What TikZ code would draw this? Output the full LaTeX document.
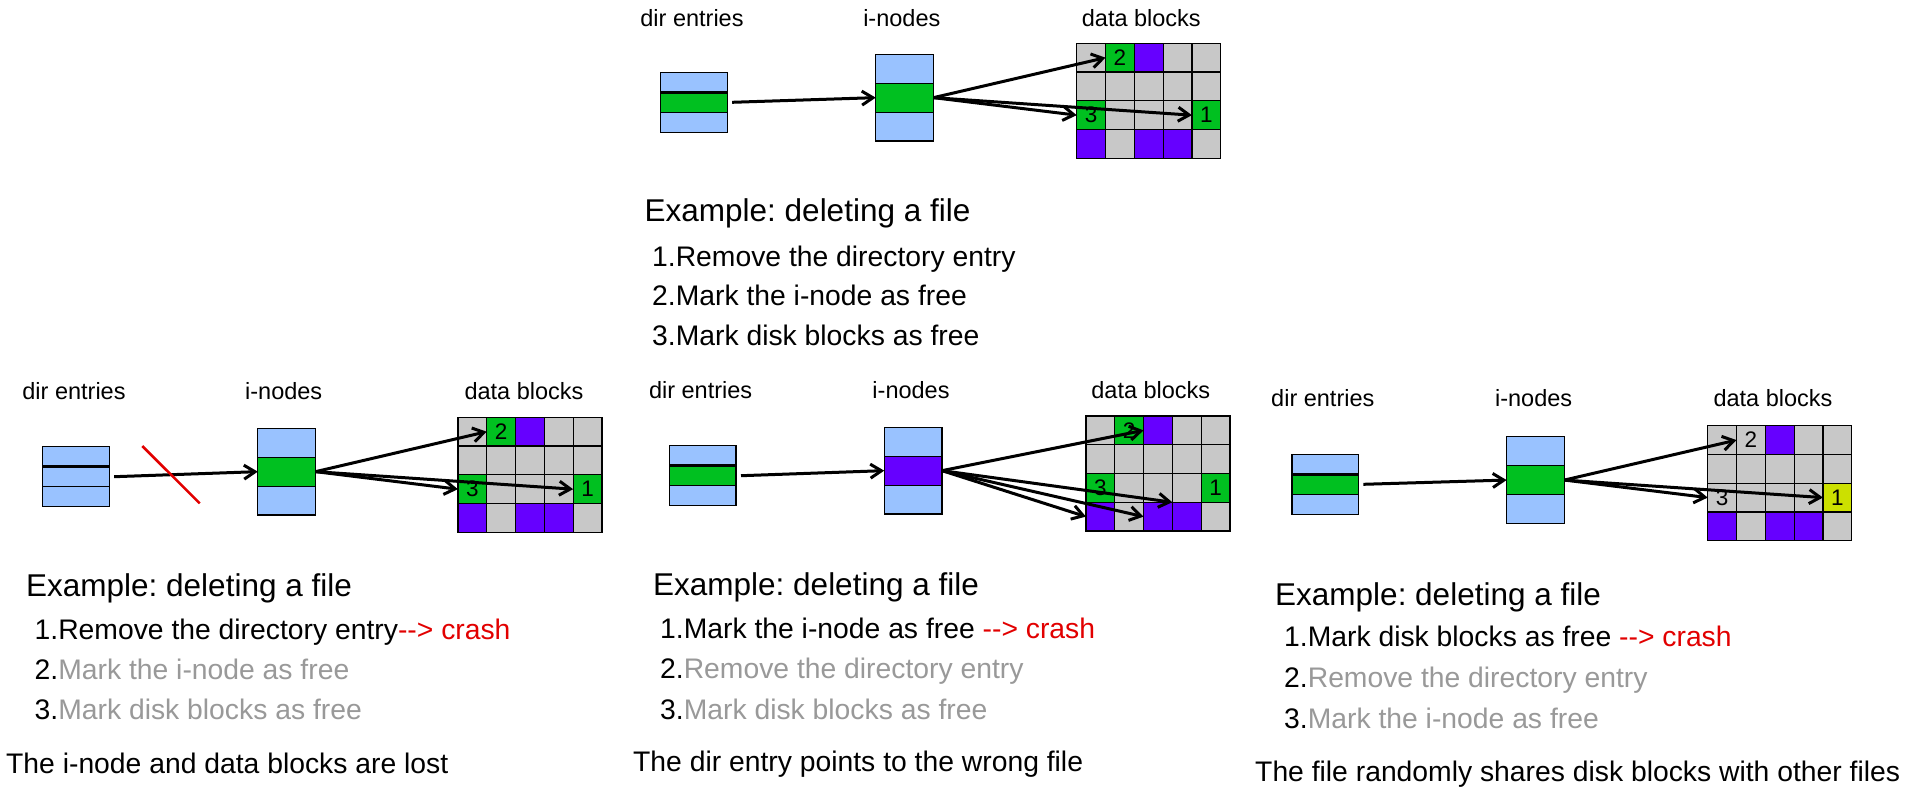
\documentclass[tikz,border=0pt]{standalone}
\usepackage{fontspec}
\setmainfont{Liberation Sans}
\usetikzlibrary{arrows.meta}
\frenchspacing
\definecolor{lblue}{RGB}{153,194,255}
\definecolor{bgreen}{RGB}{0,192,32}
\definecolor{bpurple}{RGB}{102,0,255}
\definecolor{bgray}{RGB}{200,200,200}
\definecolor{ygreen}{RGB}{204,224,0}
\definecolor{tgray}{RGB}{153,153,153}
\definecolor{tred}{RGB}{226,0,0}
\newcommand{\crashtxt}{-\kern0pt-\kern0pt> crash}
\newcommand{\blockgrid}[4]{%
  \foreach \col [count=\i from 0] in #4 {%
    \pgfmathtruncatemacro{\rr}{\i/5}%
    \pgfmathtruncatemacro{\cc}{\i-5*\rr}%
    \node[cell, fill=\col] (#1-\rr\cc) at ({#2+\cc*28.8},{#3+\rr*28.75}) {};
  }}
\newcommand{\dirbox}[6]{% prefix, x, y, colours
  \node[dirrow, fill=#4] (#1-d0) at (#2,#3) {};
  \node[dirrow, fill=#5] (#1-d1) at (#2,#3+20) {};
  \node[dirrow, fill=#6] (#1-d2) at (#2,#3+40) {};
  \draw[line width=2.8pt] (#1-d0.south west) -- (#1-d0.south east);
}
\newcommand{\inbox}[6]{%
  \node[inrow, fill=#4] (#1-i0) at (#2,#3) {};
  \node[inrow, fill=#5] (#1-i1) at (#2,#3+28.9) {};
  \node[inrow, fill=#6] (#1-i2) at (#2,#3+57.8) {};
}
\tikzset{
  cell/.style={draw=black, line width=1.2pt, minimum width=28.8pt, minimum height=28.75pt, inner sep=0pt, outer sep=0pt, anchor=north west},
  dirrow/.style={draw=black, line width=1.2pt, minimum width=66.5pt, minimum height=20pt, inner sep=0pt, outer sep=0pt, anchor=north west},
  inrow/.style={draw=black, line width=1.2pt, minimum width=57.8pt, minimum height=28.9pt, inner sep=0pt, outer sep=0pt, anchor=north west},
  arr/.style={line width=3pt, -{Straight Barb[length=11pt,width=14pt]}},
  lbl/.style={inner sep=0pt, anchor=base, font=\fontsize{23.5}{28}\selectfont},
  num/.style={inner sep=0pt, font=\fontsize{22.5}{26}\selectfont},
  ttl/.style={inner sep=0pt, anchor=base west, font=\fontsize{31.5}{38}\selectfont},
  itm/.style={inner sep=0pt, anchor=base west, font=\fontsize{28.3}{34}\selectfont},
}
\def\stdcols{bgray,bgreen,bpurple,bgray,bgray,bgray,bgray,bgray,bgray,bgray,bgreen,bgray,bgray,bgray,bgreen,bpurple,bgray,bpurple,bpurple,bgray}
\def\rcols{bgray,bgray,bpurple,bgray,bgray,bgray,bgray,bgray,bgray,bgray,bgray,bgray,bgray,bgray,ygreen,bpurple,bgray,bpurple,bpurple,bgray}
\begin{document}
\begin{tikzpicture}[x=1pt,y=-1pt]
\fill[white] (0,0) rectangle (1911,787);
\useasboundingbox (0,0) rectangle (1911,787);

% ---------------- top panel ----------------
\node[lbl] (T-ld) at (692,26) {dir entries};
\node[lbl] (T-li) at (901.8,26) {i-nodes};
\node[lbl] (T-lb) at (1141.3,26) {data blocks};
\dirbox{T}{660.7}{72.3}{lblue}{bgreen}{lblue}
\inbox{T}{875.7}{54.3}{lblue}{bgreen}{lblue}
\blockgrid{T}{1076.7}{43.3}{\stdcols}
\node[num] (T-n2) at (T-01) {2};
\node[num] (T-n3) at (T-20) {3};
\node[num] (T-n1) at (T-24) {1};
\draw[arr] ([xshift=5pt]T-d1.east) -- (T-i1.west);
\draw[arr] (T-i1.east) -- (T-01.west);
\draw[arr] (T-i1.east) -- (T-20.west);
\draw[arr] (T-i1.east) -- (T-24.west);
\node[ttl] (T-t) at (644.5,221.7) {Example: deleting a file};
\node[itm] (T-s1) at (652,266) {1.Remove the directory entry};
\node[itm] (T-s2) at (652,305) {2.Mark the i-node as free};
\node[itm] (T-s3) at (652,345) {3.Mark disk blocks as free};

% ---------------- left panel ----------------
\node[lbl] (L-ld) at (74,399.3) {dir entries};
\node[lbl] (L-li) at (283.7,399.3) {i-nodes};
\node[lbl] (L-lb) at (524,399.3) {data blocks};
\dirbox{L}{42.7}{446.7}{lblue}{lblue}{lblue}
\inbox{L}{257.8}{428.3}{lblue}{bgreen}{lblue}
\blockgrid{L}{457.9}{417.3}{\stdcols}
\node[num] (L-n2) at (L-01) {2};
\node[num] (L-n3) at (L-20) {3};
\node[num] (L-n1) at (L-24) {1};
\draw[arr] ([xshift=5pt]L-d1.east) -- (L-i1.west);
\coordinate (L-x1) at (142.3,446);
\coordinate (L-x2) at (199.7,503.3);
\draw[tred, line width=2.6pt] (L-x1) -- (L-x2);
\draw[arr] (L-i1.east) -- (L-01.west);
\draw[arr] (L-i1.east) -- (L-20.west);
\draw[arr] (L-i1.east) -- (L-24.west);
\node[ttl] (L-t) at (26,596.7) {Example: deleting a file};
\node[itm] (L-s1) at (34.5,639) {1.Remove the directory entry\textcolor{tred}{\crashtxt}};
\node[itm] (L-s2) at (34.5,679) {2.\textcolor{tgray}{Mark the i-node as free}};
\node[itm] (L-s3) at (34.5,719) {3.\textcolor{tgray}{Mark disk blocks as free}};
\node[itm] (L-b) at (6,773.3) {The i-node and data blocks are lost};

% ---------------- middle panel ----------------
\node[lbl] (M-ld) at (700.6,398.3) {dir entries};
\node[lbl] (M-li) at (911,398.3) {i-nodes};
\node[lbl] (M-lb) at (1150.8,398.3) {data blocks};
\dirbox{M}{669.5}{445.7}{lblue}{bgreen}{lblue}
\inbox{M}{884.2}{427.3}{lblue}{bpurple}{lblue}
\blockgrid{M}{1085.9}{416}{\stdcols}
\node[num] (M-n2) at (M-01) {2};
\node[num] (M-n3) at (M-20) {3};
\node[num] (M-n1) at (M-24) {1};
\draw[arr] ([xshift=5pt]M-d1.east) -- (M-i1.west);
\draw[arr] (M-i1.east) -- (M-02.west);
\draw[arr] (M-i1.east) -- (M-33.north west);
\draw[arr] (M-i1.east) -- (M-32.west);
\draw[arr] (M-i1.east) -- (M-30.west);
\node[ttl] (M-t) at (653,595) {Example: deleting a file};
\node[itm] (M-s1) at (660,638.3) {1.Mark the i-node as free \textcolor{tred}{\crashtxt}};
\node[itm] (M-s2) at (660,678.3) {2.\textcolor{tgray}{Remove the directory entry}};
\node[itm] (M-s3) at (660,719.3) {3.\textcolor{tgray}{Mark disk blocks as free}};
\node[itm] (M-b) at (633,771.7) {The dir entry points to the wrong file};

% ---------------- right panel ----------------
\node[lbl] (R-ld) at (1322.8,406.7) {dir entries};
\node[lbl] (R-li) at (1533.6,406.7) {i-nodes};
\node[lbl] (R-lb) at (1773,406.7) {data blocks};
\dirbox{R}{1291.9}{454.3}{lblue}{bgreen}{lblue}
\inbox{R}{1506.6}{436.7}{lblue}{bgreen}{lblue}
\blockgrid{R}{1707.7}{425.7}{\rcols}
\node[num] (R-n2) at (R-01) {2};
\node[num] (R-n3) at (R-20) {3};
\node[num] (R-n1) at (R-24) {1};
\draw[arr] ([xshift=5pt]R-d1.east) -- (R-i1.west);
\draw[arr] (R-i1.east) -- (R-01.west);
\draw[arr] (R-i1.east) -- (R-20.west);
\draw[arr] (R-i1.east) -- (R-24.west);
\node[ttl] (R-t) at (1275,605) {Example: deleting a file};
\node[itm] (R-s1) at (1284,646.7) {1.Mark disk blocks as free \textcolor{tred}{\crashtxt}};
\node[itm] (R-s2) at (1284,687.3) {2.\textcolor{tgray}{Remove the directory entry}};
\node[itm] (R-s3) at (1284,728.3) {3.\textcolor{tgray}{Mark the i-node as free}};
\node[itm] (R-b) at (1255,781) {The file randomly shares disk blocks with other files};
\end{tikzpicture}
\end{document}
